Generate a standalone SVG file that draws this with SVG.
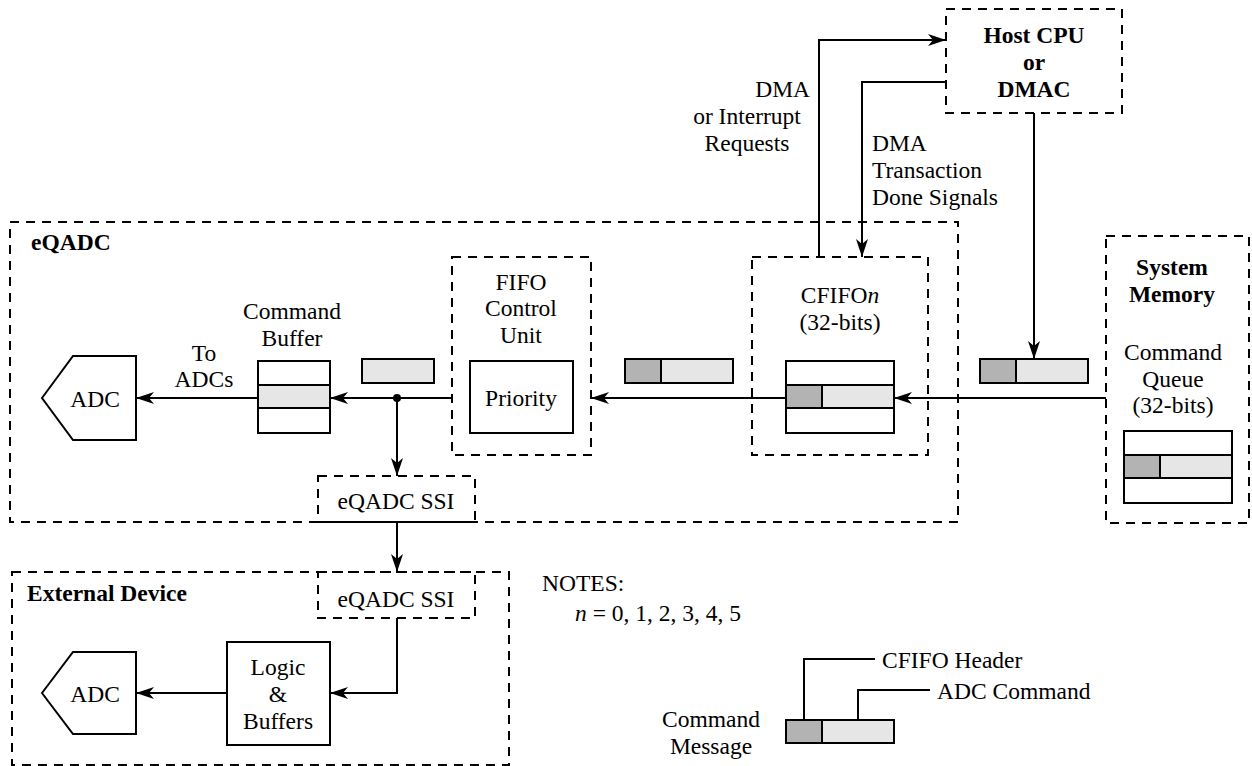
<svg xmlns="http://www.w3.org/2000/svg" width="1252" height="766" viewBox="0 0 1252 766">
<style>
text{font-family:"Liberation Serif","Times New Roman",serif;font-size:23.5px;fill:#000}
.b{font-weight:bold}
.m{text-anchor:middle}
.e{text-anchor:end}
.dash{fill:none;stroke:#000;stroke-width:2;stroke-dasharray:9 7}
.box{fill:#fff;stroke:#000;stroke-width:2}
.lt{fill:#e6e6e6;stroke:#000;stroke-width:2}
.dk{fill:#b3b3b3;stroke:#000;stroke-width:2}
.ln{fill:none;stroke:#000;stroke-width:2}
.ar{fill:none;stroke:#000;stroke-width:2;marker-end:url(#arr)}
</style>
<defs>
<marker id="arr" markerUnits="userSpaceOnUse" markerWidth="19" markerHeight="13" refX="18" refY="6.5" orient="auto">
<path d="M18,6.5 L0,0.5 L5,6.5 L0,12.5 Z" fill="#000"/>
</marker>
</defs>
<rect width="1252" height="766" fill="#fff"/>

<g id="eqadc">
<rect class="dash" x="10" y="222" width="948" height="300"/>
<text class="b" x="31" y="250">eQADC</text>
</g>

<g id="host-cpu">
<rect class="dash" x="946" y="9" width="176" height="104"/>
<text class="b m" x="1034" y="43">Host CPU</text>
<text class="b m" x="1034" y="70">or</text>
<text class="b m" x="1034" y="97">DMAC</text>
</g>

<g id="system-memory">
<rect class="dash" x="1106" y="236" width="143" height="287"/>
<text class="b m" x="1172" y="275">System</text>
<text class="b m" x="1172" y="302">Memory</text>
<text class="m" x="1173" y="360">Command</text>
<text class="m" x="1173" y="387">Queue</text>
<text class="m" x="1173" y="413">(32-bits)</text>
<rect class="box" x="1124" y="431" width="108" height="72"/>
<rect class="lt" x="1124" y="455" width="108" height="23"/>
<rect class="dk" x="1124" y="455" width="36" height="23"/>
</g>

<g id="msg-memory">
<rect class="lt" x="980" y="359" width="108" height="24"/>
<rect class="dk" x="980" y="359" width="36" height="24"/>
</g>

<g id="cfifo">
<rect class="dash" x="752" y="257" width="176" height="198"/>
<text class="m" x="840" y="303">CFIFO<tspan font-style="italic">n</tspan></text>
<text class="m" x="840" y="330">(32-bits)</text>
<rect class="box" x="786" y="361" width="108" height="72"/>
<rect class="lt" x="786" y="385" width="108" height="23"/>
<rect class="dk" x="786" y="385" width="36" height="23"/>
</g>

<g id="msg-cfifo">
<rect class="lt" x="625" y="359" width="108" height="24"/>
<rect class="dk" x="625" y="359" width="36" height="24"/>
</g>

<g id="fifo-control">
<rect class="dash" x="452" y="257" width="139" height="198"/>
<text class="m" x="521" y="290">FIFO</text>
<text class="m" x="521" y="316">Control</text>
<text class="m" x="521" y="343">Unit</text>
<rect class="box" x="470" y="361" width="103" height="72"/>
<text class="m" x="521" y="406">Priority</text>
</g>

<g id="msg-fifo">
<rect class="lt" x="362" y="359" width="72" height="24"/>
</g>

<g id="command-buffer">
<text class="m" x="292" y="319">Command</text>
<text class="m" x="292" y="346">Buffer</text>
<rect class="box" x="258" y="361" width="72" height="72"/>
<rect class="lt" x="258" y="385" width="72" height="23"/>
</g>

<g id="adc">
<polygon class="box" points="42,398 73,356 136,356 136,440 73,440"/>
<text class="m" x="95" y="407">ADC</text>
</g>

<g id="eqadc-ssi">
<rect class="dash" x="318" y="476" width="157" height="46"/>
<text class="m" x="396" y="509">eQADC SSI</text>
</g>

<g id="external-device">
<rect class="dash" x="12" y="572" width="497" height="193"/>
<text class="b" x="27" y="601">External Device</text>
</g>

<g id="ext-ssi">
<rect class="dash" x="318" y="572" width="157" height="46"/>
<text class="m" x="396" y="607">eQADC SSI</text>
</g>

<g id="logic">
<rect class="box" x="227" y="642" width="103" height="103"/>
<text class="m" x="278" y="675">Logic</text>
<text class="m" x="278" y="702">&amp;</text>
<text class="m" x="278" y="729">Buffers</text>
</g>

<g id="adc2">
<polygon class="box" points="42,693 73,652 136,652 136,734 73,734"/>
<text class="m" x="95" y="702">ADC</text>
</g>

<g id="notes">
<text x="542" y="591">NOTES:</text>
<text x="575" y="621"><tspan font-style="italic">n</tspan> = 0, 1, 2, 3, 4, 5</text>
</g>

<g id="legend">
<text class="m" x="711" y="727">Command</text>
<text class="m" x="711" y="754">Message</text>
<rect class="lt" x="786" y="720" width="108" height="23"/>
<rect class="dk" x="786" y="720" width="36" height="23"/>
<polyline class="ln" points="804,720 804,659 875,659"/>
<polyline class="ln" points="858,720 858,690 930,690"/>
<text x="882" y="668">CFIFO Header</text>
<text x="937" y="699">ADC Command</text>
</g>

<g id="labels">
<text class="e" x="810" y="97">DMA</text>
<text class="m" x="747" y="124">or Interrupt</text>
<text class="m" x="747" y="151">Requests</text>
<text x="872" y="151">DMA</text>
<text x="872" y="178">Transaction</text>
<text x="872" y="205">Done Signals</text>
<text class="m" x="204" y="361">To</text>
<text class="m" x="204" y="387">ADCs</text>
</g>

<g id="connectors">
<polyline class="ar" points="819,257 819,40 946,40"/>
<polyline class="ar" points="946,82 862,82 862,257"/>
<line class="ar" x1="1034" y1="113" x2="1034" y2="359"/>
<line class="ar" x1="1106" y1="398" x2="894" y2="398"/>
<line class="ar" x1="786" y1="398" x2="591" y2="398"/>
<line class="ar" x1="452" y1="398" x2="330" y2="398"/>
<circle cx="397" cy="398" r="4" fill="#000"/>
<line class="ar" x1="397" y1="398" x2="397" y2="476"/>
<line class="ar" x1="258" y1="398" x2="136" y2="398"/>
<line class="ar" x1="397" y1="522" x2="397" y2="572"/>
<polyline class="ar" points="397,618 397,693 330,693"/>
<line class="ar" x1="227" y1="693" x2="136" y2="693"/>
</g>
</svg>
